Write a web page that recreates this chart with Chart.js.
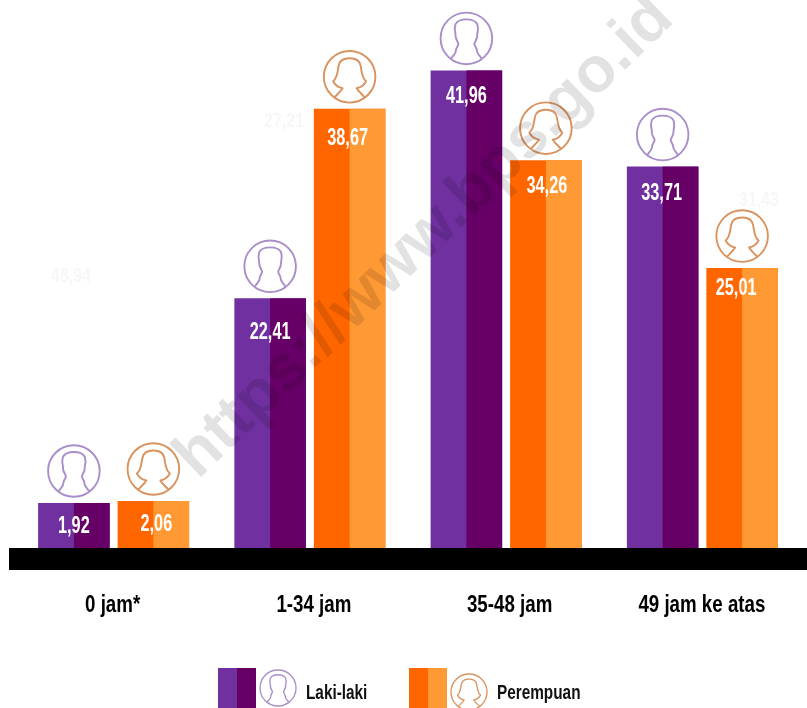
<!DOCTYPE html>
<html><head><meta charset="utf-8">
<style>html,body{margin:0;padding:0;background:#fff}canvas{display:block}</style>
<script src="https://cdn.jsdelivr.net/npm/chart.js@4"></script>
</head><body>
<canvas id="c" width="807" height="708"></canvas>
<script>
const categories = ['0 jam*', '1-34 jam', '35-48 jam', '49 jam ke atas'];
const lakiLaki = [1.92, 22.41, 41.96, 33.71];
const perempuan = [2.06, 38.67, 34.26, 25.01];
const seriesNames = ['Laki-laki', 'Perempuan'];
const watermark = 'https://www.bps.go.id';
const ghostLabels = ['48,94', '27,21', '31,43'];

const PURPLE = ['#7030a0', '#660066', '#a98fca'];
const ORANGE = ['#ff6600', '#ff9933', '#d9935f'];
const FONT = '"Liberation Sans", sans-serif';
// layout nudges of the printed numbers below each bar top, per series
const labelDrops = [[23, 34, 26, 27], [23, 30, 26, 20]];
const labelShifts = [[0, 0, 0, -1], [3, -2, 1, -6]];
const tickShifts = [-1, 4, 3.5, -0.5];

function fmt(v){ return v.toFixed(2).replace('.', ','); }

function squeezed(ctx, text, x, y, font, color, sx, align){
  ctx.save();
  ctx.font = font; ctx.fillStyle = color;
  ctx.textAlign = align || 'center'; ctx.textBaseline = 'middle';
  ctx.translate(x, y); ctx.scale(sx, 1);
  ctx.fillText(text, 0, 0);
  ctx.restore();
}

function person(ctx, cx, cy, r, female, color){
  const k = r / 26.5;
  ctx.save();
  ctx.translate(cx, cy); ctx.scale(k, k);
  ctx.strokeStyle = color; ctx.lineWidth = 1.9; ctx.lineJoin = 'round';
  ctx.beginPath(); ctx.arc(0, 0, 25.8, 0, Math.PI * 2); ctx.stroke();
  ctx.beginPath();
  if (female) {
    ctx.moveTo(-15, 20.5);
    ctx.bezierCurveTo(-12, 17, -9, 15, -7, 11.5);
    ctx.bezierCurveTo(-10, 11, -14, 9, -16.5, 4.5);
    ctx.bezierCurveTo(-12, 1, -12, -6, -11, -11);
    ctx.bezierCurveTo(-10, -17, -5, -18.5, 0, -18.5);
    ctx.bezierCurveTo(5, -18.5, 10, -17, 11, -11);
    ctx.bezierCurveTo(12, -6, 12, 1, 16.5, 4.5);
    ctx.bezierCurveTo(14, 9, 10, 11, 7, 11.5);
    ctx.bezierCurveTo(9, 15, 12, 17, 15, 20.5);
  } else {
    ctx.moveTo(-15.5, 21);
    ctx.bezierCurveTo(-14, 17, -10.5, 16, -10.5, 12);
    ctx.bezierCurveTo(-10.5, 9, -8, 8, -8, 5);
    ctx.bezierCurveTo(-9, 3, -11.5, 0, -11, -5);
    ctx.bezierCurveTo(-12, -8, -11.5, -12, -11, -14);
    ctx.bezierCurveTo(-9, -18, -4, -19, 0, -19);
    ctx.bezierCurveTo(4, -19, 9, -18, 11, -14);
    ctx.bezierCurveTo(11.5, -12, 12, -8, 11, -5);
    ctx.bezierCurveTo(11.5, 0, 9, 3, 8, 5);
    ctx.bezierCurveTo(8, 8, 10.5, 9, 10.5, 12);
    ctx.bezierCurveTo(10.5, 16, 14, 17, 15.5, 21);
  }
  ctx.stroke();
  ctx.restore();
}

const decorate = {
  id: 'decorate',
  afterDatasetsDraw(chart) {
    const { ctx, scales: { x, y }, width } = chart;
    const baseY = y.getPixelForValue(y.min);
    const palettes = [PURPLE, ORANGE];
    chart.data.datasets.forEach((ds, di) => {
      const pal = palettes[di];
      chart.getDatasetMeta(di).data.forEach((bar, i) => {
        ctx.fillStyle = pal[1];
        ctx.fillRect(bar.x, bar.y, bar.width / 2, baseY - bar.y);
        squeezed(ctx, fmt(ds.data[i]), bar.x + labelShifts[di][i], bar.y + labelDrops[di][i], '700 24px ' + FONT, '#fff', 0.68);
        person(ctx, bar.x, bar.y - 32, 26.5, di === 1, pal[2]);
      });
    });
    // ground band
    ctx.fillStyle = '#000';
    ctx.fillRect(9, baseY, width - 9, 22);

    // category labels, placed from the category scale
    categories.forEach((c, i) => {
      squeezed(ctx, c, x.getPixelForTick(i) + tickShifts[i], 605, '700 24px ' + FONT, '#000', 0.78);
    });

    // faint ghost figures
    const xs = [71, 284, 759], ys = [276, 121, 200];
    ghostLabels.forEach((t, i) => squeezed(ctx, t, xs[i], ys[i], '700 20px ' + FONT, '#f7f7f7', 0.8));

    // legend
    const items = [[218, 278, 688, 306, PURPLE], [409, 469, 692, 497, ORANGE]];
    items.forEach((it, i) => {
      const p = it[4];
      ctx.fillStyle = p[0]; ctx.fillRect(it[0], 668, 19, 40);
      ctx.fillStyle = p[1]; ctx.fillRect(it[0] + 19, 668, 19, 40);
      person(ctx, it[1], it[2], 18.5, i === 1, p[2]);
      squeezed(ctx, seriesNames[i], it[3], 693, '700 21px ' + FONT, '#111', 0.73, 'left');
    });

    // watermark
    ctx.save();
    ctx.translate(198, 480);
    ctx.rotate(-Math.atan2(485, 505));
    ctx.font = '700 64px ' + FONT;
    ctx.fillStyle = 'rgba(0,0,0,0.115)';
    ctx.textAlign = 'left'; ctx.textBaseline = 'alphabetic';
    ctx.fillText(watermark, 0, 0);
    ctx.restore();
  }
};

new Chart(document.getElementById('c'), {
  type: 'bar',
  data: {
    labels: categories,
    datasets: [
      { label: seriesNames[0], data: lakiLaki, backgroundColor: PURPLE[0], minBarLength: 45 },
      { label: seriesNames[1], data: perempuan, backgroundColor: ORANGE[0], minBarLength: 47 }
    ]
  },
  options: {
    responsive: false,
    animation: false,
    events: [],
    base: 1,
    layout: { padding: { left: 15.5, right: 6.5, top: 0, bottom: 0 } },
    datasets: { bar: { categoryPercentage: 0.81, barPercentage: 0.9 } },
    plugins: { legend: { display: false }, tooltip: { enabled: false } },
    scales: {
      x: {
        grid: { display: false, drawTicks: false },
        border: { display: false },
        ticks: { display: false },
        afterFit(s) { s.height = 160; s.paddingLeft = 0; s.paddingRight = 0; }
      },
      y: { display: false, min: 1, max: 48 }
    }
  },
  plugins: [decorate]
});
</script>
</body></html>
